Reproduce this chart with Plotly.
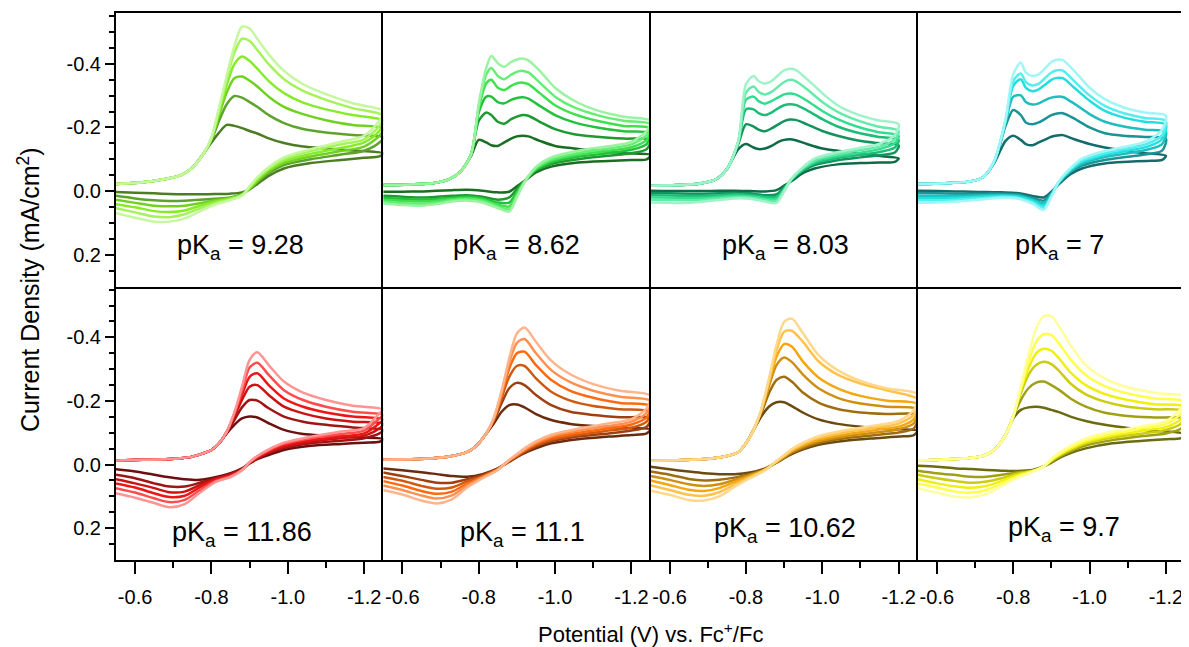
import plotly.graph_objects as go
from plotly.subplots import make_subplots

# ---------------- potential grids (V vs Fc+/Fc) ----------------
E_F1 = [-0.55, -0.62, -0.68, -0.72, -0.75, -0.78, -0.80, -0.82, -0.84, -0.86,
        -0.88, -0.90, -0.92, -0.95, -0.99, -1.04, -1.10, -1.17, -1.25]
E_R1 = [-1.24, -1.20, -1.14, -1.06, -0.99, -0.95, -0.92, -0.90, -0.88, -0.85,
        -0.81, -0.77, -0.73, -0.69, -0.65, -0.60, -0.55]
E_F2 = [-0.55, -0.62, -0.68, -0.72, -0.75, -0.78, -0.80, -0.82, -0.833, -0.85,
        -0.867, -0.885, -0.90, -0.915, -0.93, -0.96, -1.00, -1.05, -1.11, -1.18, -1.25]
E_F3 = [-0.55, -0.62, -0.68, -0.72, -0.75, -0.78, -0.80, -0.82, -0.833, -0.85,
        -0.867, -0.885, -0.90, -0.915, -0.93, -0.96, -1.00, -1.04, -1.09, -1.145, -1.20]
E_R3 = [-1.19, -1.15, -1.10, -1.04, -0.98, -0.95, -0.92, -0.90, -0.88, -0.85,
        -0.81, -0.77, -0.73, -0.69, -0.65, -0.60, -0.55]

# ---------------- pKa 9.28 ----------------
FOOT_928 = [-0.022, -0.028, -0.038, -0.050, -0.074, -0.119]
TAIL_928 = [
    [-0.153, -0.184, -0.208, -0.205, -0.198, -0.189, -0.181, -0.166, -0.151, -0.140, -0.134, -0.128, -0.119],
    [-0.160, -0.221, -0.273, -0.299, -0.294, -0.280, -0.265, -0.239, -0.214, -0.195, -0.184, -0.176, -0.169],
    [-0.163, -0.239, -0.310, -0.355, -0.360, -0.347, -0.329, -0.297, -0.265, -0.242, -0.223, -0.208, -0.197],
    [-0.165, -0.249, -0.333, -0.399, -0.423, -0.409, -0.385, -0.346, -0.308, -0.278, -0.257, -0.239, -0.221],
    [-0.167, -0.257, -0.352, -0.435, -0.479, -0.472, -0.444, -0.399, -0.352, -0.315, -0.287, -0.261, -0.237],
    [-0.168, -0.263, -0.362, -0.456, -0.517, -0.511, -0.479, -0.430, -0.378, -0.336, -0.305, -0.276, -0.252],
]
REV_928 = [
    [-0.109, -0.105, -0.098, -0.088, -0.071, -0.048, -0.022, -0.006, 0.004, 0.008, 0.009, 0.010, 0.010, 0.009, 0.007, 0.005, 0.003],
    [-0.153, -0.127, -0.115, -0.100, -0.082, -0.057, -0.027, -0.006, 0.009, 0.020, 0.024, 0.027, 0.030, 0.031, 0.029, 0.023, 0.015],
    [-0.174, -0.140, -0.126, -0.109, -0.088, -0.062, -0.031, -0.008, 0.010, 0.022, 0.029, 0.038, 0.046, 0.048, 0.046, 0.037, 0.027],
    [-0.189, -0.153, -0.136, -0.117, -0.094, -0.067, -0.036, -0.010, 0.012, 0.024, 0.033, 0.046, 0.061, 0.066, 0.063, 0.051, 0.041],
    [-0.205, -0.163, -0.147, -0.126, -0.100, -0.071, -0.040, -0.013, 0.013, 0.026, 0.038, 0.054, 0.073, 0.082, 0.080, 0.067, 0.054],
    [-0.221, -0.174, -0.155, -0.132, -0.106, -0.075, -0.043, -0.015, 0.014, 0.028, 0.042, 0.063, 0.086, 0.096, 0.096, 0.084, 0.069],
]
COL_928 = ["#4b7d22", "#5ea32b", "#6fd21f", "#86ec2a", "#a6f25a", "#c5f79c"]

# ---------------- pKa 8.62 ----------------
FOOT_862 = [-0.019, -0.021, -0.025, -0.036, -0.059]
TAIL_862 = [
    [-0.111, -0.161, -0.153, -0.144, -0.142, -0.153, -0.165, -0.172, -0.174, -0.172, -0.158, -0.142, -0.134, -0.127, -0.119, -0.113],
    [-0.116, -0.221, -0.247, -0.239, -0.218, -0.212, -0.226, -0.234, -0.239, -0.237, -0.218, -0.195, -0.179, -0.171, -0.165, -0.161],
    [-0.116, -0.247, -0.297, -0.297, -0.280, -0.276, -0.287, -0.293, -0.295, -0.291, -0.268, -0.239, -0.216, -0.200, -0.188, -0.182],
    [-0.116, -0.260, -0.339, -0.350, -0.325, -0.318, -0.331, -0.339, -0.341, -0.336, -0.308, -0.270, -0.242, -0.221, -0.205, -0.197],
    [-0.116, -0.266, -0.367, -0.387, -0.362, -0.352, -0.366, -0.375, -0.378, -0.373, -0.341, -0.297, -0.263, -0.239, -0.221, -0.210],
    [-0.116, -0.273, -0.388, -0.425, -0.402, -0.391, -0.406, -0.414, -0.417, -0.411, -0.378, -0.325, -0.284, -0.254, -0.234, -0.221],
]
REV_862 = [
    [-0.100, -0.098, -0.095, -0.090, -0.077, -0.059, -0.032, -0.015, 0.002, 0.004, -0.001, -0.004, -0.003, -0.001, 0.001, 0.002, 0.002],
    [-0.132, -0.119, -0.111, -0.100, -0.085, -0.064, -0.032, -0.006, 0.020, 0.027, 0.018, 0.013, 0.015, 0.018, 0.020, 0.018, 0.015],
    [-0.148, -0.130, -0.119, -0.108, -0.090, -0.067, -0.031, 0.002, 0.036, 0.036, 0.023, 0.018, 0.021, 0.025, 0.027, 0.025, 0.021],
    [-0.161, -0.138, -0.127, -0.114, -0.095, -0.070, -0.030, 0.009, 0.048, 0.043, 0.027, 0.022, 0.025, 0.030, 0.033, 0.031, 0.027],
    [-0.176, -0.147, -0.134, -0.120, -0.100, -0.073, -0.029, 0.015, 0.057, 0.048, 0.031, 0.026, 0.029, 0.036, 0.040, 0.038, 0.033],
    [-0.189, -0.155, -0.141, -0.127, -0.106, -0.076, -0.028, 0.020, 0.064, 0.053, 0.036, 0.030, 0.033, 0.041, 0.046, 0.044, 0.039],
]
COL_862 = ["#1a6e22", "#1e9a30", "#24c23c", "#3ee04f", "#66ee74", "#9af3a0"]

# ---------------- pKa 8.03 ----------------
FOOT_803 = [-0.017, -0.019, -0.024, -0.036, -0.069]
TAIL_803 = [
    [-0.132, -0.148, -0.137, -0.132, -0.134, -0.142, -0.155, -0.161, -0.163, -0.160, -0.148, -0.134, -0.127, -0.119, -0.111, -0.103],
    [-0.148, -0.210, -0.203, -0.193, -0.188, -0.197, -0.210, -0.220, -0.225, -0.224, -0.210, -0.189, -0.174, -0.160, -0.151, -0.144],
    [-0.153, -0.257, -0.257, -0.245, -0.239, -0.247, -0.261, -0.270, -0.273, -0.271, -0.254, -0.226, -0.203, -0.184, -0.171, -0.161],
    [-0.155, -0.287, -0.297, -0.283, -0.275, -0.283, -0.295, -0.304, -0.307, -0.304, -0.284, -0.252, -0.226, -0.203, -0.186, -0.174],
    [-0.157, -0.310, -0.329, -0.312, -0.304, -0.312, -0.329, -0.343, -0.350, -0.346, -0.320, -0.280, -0.249, -0.223, -0.203, -0.189],
    [-0.158, -0.336, -0.362, -0.346, -0.338, -0.346, -0.365, -0.380, -0.385, -0.381, -0.352, -0.308, -0.270, -0.242, -0.223, -0.210],
]
REV_803 = [
    [-0.092, -0.090, -0.088, -0.084, -0.071, -0.057, -0.032, -0.017, -0.003, 0.001, 0.000, -0.001, -0.001, 0.000, 0.000, 0.000, -0.001],
    [-0.121, -0.113, -0.106, -0.097, -0.082, -0.064, -0.036, -0.012, 0.010, 0.013, 0.007, 0.006, 0.007, 0.008, 0.008, 0.007, 0.006],
    [-0.137, -0.123, -0.114, -0.104, -0.087, -0.067, -0.037, -0.008, 0.018, 0.018, 0.012, 0.010, 0.013, 0.015, 0.015, 0.014, 0.013],
    [-0.151, -0.132, -0.121, -0.110, -0.092, -0.070, -0.038, -0.005, 0.024, 0.023, 0.016, 0.015, 0.018, 0.021, 0.022, 0.021, 0.020],
    [-0.163, -0.140, -0.129, -0.116, -0.097, -0.073, -0.039, -0.002, 0.030, 0.028, 0.020, 0.019, 0.023, 0.027, 0.029, 0.028, 0.027],
    [-0.176, -0.149, -0.136, -0.122, -0.103, -0.076, -0.040, 0.001, 0.037, 0.033, 0.024, 0.023, 0.028, 0.033, 0.037, 0.037, 0.036],
]
COL_803 = ["#0f6b45", "#13945e", "#1dbd78", "#33dd90", "#66eaaa", "#9ff3c8"]

# ---------------- pKa 7 ----------------
FOOT_7 = [-0.022, -0.025, -0.029, -0.043]
TAIL_7 = [
    [-0.088, -0.158, -0.174, -0.161, -0.148, -0.144, -0.153, -0.163, -0.171, -0.175, -0.176, -0.163, -0.148, -0.137, -0.127, -0.119, -0.111],
    [-0.090, -0.205, -0.255, -0.239, -0.216, -0.210, -0.216, -0.228, -0.239, -0.244, -0.245, -0.228, -0.200, -0.182, -0.174, -0.170, -0.165],
    [-0.091, -0.216, -0.297, -0.301, -0.280, -0.272, -0.276, -0.287, -0.294, -0.297, -0.296, -0.275, -0.242, -0.218, -0.203, -0.193, -0.186],
    [-0.092, -0.220, -0.331, -0.352, -0.325, -0.314, -0.320, -0.336, -0.350, -0.356, -0.355, -0.325, -0.284, -0.252, -0.231, -0.218, -0.208],
    [-0.093, -0.223, -0.346, -0.370, -0.343, -0.332, -0.338, -0.357, -0.373, -0.380, -0.379, -0.346, -0.301, -0.268, -0.245, -0.230, -0.220],
    [-0.094, -0.226, -0.367, -0.404, -0.373, -0.362, -0.367, -0.388, -0.406, -0.413, -0.412, -0.378, -0.325, -0.289, -0.263, -0.247, -0.237],
]
REV_7 = [
    [-0.098, -0.095, -0.092, -0.087, -0.071, -0.053, -0.022, 0.002, 0.020, 0.015, 0.006, 0.004, 0.003, 0.002, 0.001, 0.000, -0.001],
    [-0.127, -0.116, -0.108, -0.098, -0.080, -0.059, -0.025, 0.006, 0.030, 0.021, 0.010, 0.008, 0.008, 0.008, 0.008, 0.007, 0.006],
    [-0.148, -0.130, -0.119, -0.107, -0.086, -0.063, -0.027, 0.009, 0.039, 0.026, 0.014, 0.012, 0.013, 0.014, 0.015, 0.015, 0.015],
    [-0.163, -0.139, -0.127, -0.113, -0.091, -0.066, -0.029, 0.013, 0.046, 0.030, 0.017, 0.015, 0.017, 0.019, 0.021, 0.022, 0.022],
    [-0.176, -0.148, -0.134, -0.119, -0.096, -0.069, -0.030, 0.015, 0.052, 0.035, 0.020, 0.018, 0.021, 0.024, 0.027, 0.029, 0.029],
    [-0.193, -0.157, -0.141, -0.126, -0.102, -0.072, -0.031, 0.017, 0.059, 0.039, 0.023, 0.021, 0.025, 0.029, 0.033, 0.036, 0.037],
]
COL_7 = ["#156b6b", "#1a9494", "#1fbdbd", "#22dede", "#55eded", "#a0f6f6"]

# ---------------- pKa 11.86 ----------------
FOOT_1186 = [-0.013, -0.015, -0.017, -0.020, -0.025, -0.036, -0.046, -0.067]
TAIL_1186 = [
    [-0.098, -0.125, -0.145, -0.151, -0.148, -0.130, -0.109, -0.096, -0.091, -0.086, -0.080],
    [-0.100, -0.140, -0.180, -0.203, -0.201, -0.177, -0.151, -0.135, -0.125, -0.117, -0.109],
    [-0.103, -0.151, -0.203, -0.245, -0.250, -0.219, -0.182, -0.161, -0.145, -0.135, -0.128],
    [-0.103, -0.156, -0.219, -0.276, -0.287, -0.250, -0.208, -0.182, -0.164, -0.151, -0.142],
    [-0.103, -0.161, -0.232, -0.305, -0.320, -0.282, -0.234, -0.203, -0.182, -0.166, -0.156],
    [-0.103, -0.164, -0.245, -0.329, -0.353, -0.313, -0.261, -0.226, -0.203, -0.185, -0.174],
]
REV_1186 = [
    [-0.072, -0.069, -0.065, -0.059, -0.046, -0.030, -0.017, -0.004, 0.012, 0.027, 0.040, 0.048, 0.046, 0.040, 0.032, 0.022, 0.015],
    [-0.098, -0.083, -0.075, -0.067, -0.052, -0.036, -0.019, -0.004, 0.014, 0.030, 0.043, 0.057, 0.069, 0.069, 0.059, 0.043, 0.032],
    [-0.114, -0.091, -0.083, -0.072, -0.057, -0.039, -0.021, -0.005, 0.015, 0.032, 0.046, 0.064, 0.085, 0.087, 0.074, 0.059, 0.046],
    [-0.130, -0.098, -0.089, -0.077, -0.061, -0.042, -0.023, -0.006, 0.016, 0.035, 0.049, 0.071, 0.098, 0.102, 0.090, 0.072, 0.059],
    [-0.145, -0.107, -0.096, -0.083, -0.065, -0.045, -0.025, -0.007, 0.017, 0.037, 0.052, 0.080, 0.111, 0.118, 0.106, 0.088, 0.074],
    [-0.161, -0.115, -0.104, -0.088, -0.069, -0.048, -0.027, -0.008, 0.018, 0.039, 0.055, 0.088, 0.124, 0.134, 0.121, 0.104, 0.090],
]
COL_1186 = ["#6b0f0f", "#9e1515", "#cc1212", "#ee1515", "#ff4d4d", "#ff9494"]

# ---------------- pKa 11.1 ----------------
FOOT_111 = [-0.015, -0.017, -0.020, -0.025, -0.032, -0.046, -0.067, -0.098]
TAIL_111 = [
    [-0.130, -0.166, -0.187, -0.189, -0.180, -0.159, -0.140, -0.128, -0.121, -0.116, -0.111],
    [-0.138, -0.193, -0.240, -0.257, -0.250, -0.219, -0.187, -0.166, -0.156, -0.149, -0.145],
    [-0.142, -0.209, -0.276, -0.310, -0.310, -0.271, -0.229, -0.201, -0.184, -0.174, -0.166],
    [-0.144, -0.219, -0.302, -0.350, -0.355, -0.313, -0.266, -0.232, -0.210, -0.194, -0.184],
    [-0.147, -0.226, -0.320, -0.383, -0.395, -0.350, -0.297, -0.259, -0.232, -0.213, -0.200],
    [-0.149, -0.232, -0.334, -0.412, -0.431, -0.386, -0.327, -0.284, -0.253, -0.232, -0.217],
]
REV_111 = [
    [-0.098, -0.093, -0.088, -0.080, -0.067, -0.051, -0.036, -0.023, -0.009, 0.012, 0.030, 0.038, 0.036, 0.030, 0.024, 0.018, 0.012],
    [-0.119, -0.107, -0.098, -0.088, -0.073, -0.057, -0.039, -0.025, -0.010, 0.013, 0.033, 0.046, 0.057, 0.057, 0.048, 0.036, 0.025],
    [-0.135, -0.116, -0.107, -0.094, -0.078, -0.061, -0.042, -0.027, -0.012, 0.014, 0.036, 0.053, 0.072, 0.076, 0.067, 0.051, 0.039],
    [-0.149, -0.126, -0.114, -0.100, -0.084, -0.065, -0.045, -0.029, -0.013, 0.015, 0.039, 0.060, 0.085, 0.092, 0.083, 0.066, 0.052],
    [-0.163, -0.135, -0.121, -0.107, -0.089, -0.069, -0.048, -0.031, -0.014, 0.016, 0.041, 0.066, 0.097, 0.107, 0.097, 0.080, 0.066],
    [-0.177, -0.143, -0.129, -0.113, -0.094, -0.073, -0.051, -0.033, -0.015, 0.017, 0.043, 0.072, 0.109, 0.122, 0.113, 0.094, 0.080],
]
COL_111 = ["#6b2b0f", "#a04010", "#d05a10", "#ff6a10", "#ff9050", "#ffb48c"]

# ---------------- pKa 10.62 ----------------
FOOT_1062 = [-0.012, -0.014, -0.017, -0.021, -0.027, -0.039, -0.067, -0.109]
TAIL_1062 = [
    [-0.151, -0.182, -0.196, -0.196, -0.184, -0.163, -0.142, -0.128, -0.119, -0.112, -0.106],
    [-0.161, -0.224, -0.266, -0.276, -0.261, -0.226, -0.195, -0.175, -0.164, -0.159, -0.156],
    [-0.166, -0.245, -0.313, -0.337, -0.323, -0.282, -0.240, -0.210, -0.192, -0.182, -0.174],
    [-0.169, -0.255, -0.339, -0.379, -0.371, -0.323, -0.274, -0.240, -0.216, -0.201, -0.190],
    [-0.172, -0.264, -0.360, -0.418, -0.421, -0.385, -0.325, -0.283, -0.255, -0.233, -0.205],
    [-0.174, -0.268, -0.376, -0.449, -0.459, -0.412, -0.344, -0.297, -0.263, -0.239, -0.221],
]
REV_1062 = [
    [-0.093, -0.088, -0.083, -0.075, -0.062, -0.048, -0.033, -0.020, -0.006, 0.012, 0.025, 0.030, 0.030, 0.027, 0.022, 0.015, 0.007],
    [-0.114, -0.101, -0.093, -0.083, -0.068, -0.052, -0.037, -0.022, -0.007, 0.014, 0.030, 0.041, 0.048, 0.050, 0.045, 0.032, 0.022],
    [-0.130, -0.111, -0.101, -0.089, -0.073, -0.057, -0.040, -0.024, -0.008, 0.015, 0.033, 0.048, 0.062, 0.067, 0.062, 0.048, 0.036],
    [-0.143, -0.119, -0.109, -0.095, -0.078, -0.061, -0.043, -0.026, -0.009, 0.016, 0.037, 0.055, 0.074, 0.083, 0.079, 0.064, 0.050],
    [-0.158, -0.129, -0.116, -0.102, -0.084, -0.065, -0.046, -0.028, -0.010, 0.017, 0.040, 0.063, 0.087, 0.098, 0.095, 0.080, 0.065],
    [-0.172, -0.137, -0.123, -0.108, -0.089, -0.069, -0.049, -0.030, -0.012, 0.018, 0.043, 0.070, 0.100, 0.113, 0.111, 0.095, 0.082],
]
COL_1062 = ["#6b4a0f", "#a06e10", "#cf9010", "#f5a712", "#ffc24d", "#ffd88c"]

# ---------------- pKa 9.7 ----------------
FOOT_97 = [-0.013, -0.016, -0.020, -0.027, -0.046, -0.093]
TAIL_97 = [
    [-0.145, -0.172, -0.180, -0.182, -0.179, -0.172, -0.165, -0.151, -0.137, -0.125, -0.115, -0.106, -0.096],
    [-0.151, -0.203, -0.240, -0.258, -0.261, -0.250, -0.235, -0.208, -0.182, -0.163, -0.153, -0.148, -0.144],
    [-0.151, -0.224, -0.282, -0.313, -0.323, -0.316, -0.295, -0.255, -0.221, -0.198, -0.182, -0.174, -0.168],
    [-0.151, -0.234, -0.302, -0.350, -0.364, -0.358, -0.334, -0.290, -0.250, -0.222, -0.203, -0.190, -0.182],
    [-0.151, -0.240, -0.323, -0.386, -0.410, -0.407, -0.381, -0.331, -0.282, -0.247, -0.224, -0.208, -0.198],
    [-0.151, -0.245, -0.344, -0.428, -0.467, -0.467, -0.435, -0.376, -0.313, -0.271, -0.243, -0.226, -0.213],
]
REV_97 = [
    [-0.083, -0.080, -0.075, -0.067, -0.051, -0.036, -0.020, -0.006, 0.006, 0.017, 0.020, 0.019, 0.017, 0.014, 0.012, 0.007, 0.004],
    [-0.114, -0.098, -0.090, -0.077, -0.060, -0.042, -0.024, -0.009, 0.006, 0.019, 0.025, 0.032, 0.038, 0.038, 0.033, 0.027, 0.019],
    [-0.130, -0.109, -0.098, -0.085, -0.066, -0.046, -0.027, -0.012, 0.006, 0.020, 0.029, 0.043, 0.053, 0.057, 0.052, 0.043, 0.032],
    [-0.145, -0.118, -0.107, -0.091, -0.071, -0.050, -0.030, -0.014, 0.006, 0.021, 0.033, 0.051, 0.067, 0.073, 0.069, 0.059, 0.046],
    [-0.161, -0.128, -0.114, -0.097, -0.076, -0.054, -0.033, -0.016, 0.006, 0.022, 0.038, 0.059, 0.080, 0.088, 0.085, 0.072, 0.059],
    [-0.177, -0.137, -0.121, -0.104, -0.082, -0.059, -0.037, -0.018, 0.006, 0.023, 0.042, 0.067, 0.092, 0.103, 0.101, 0.088, 0.074],
]
COL_97 = ["#6b6b10", "#a0a015", "#cccc10", "#f0f010", "#ffff4d", "#ffff99"]

# ---------------- panel labels / ticks ----------------
PKA_LABELS = ["9.28", "8.62", "8.03", "7", "11.86", "11.1", "10.62", "9.7"]
LABEL_X = [-0.876, -0.898, -0.904, -0.920, -0.879, -0.914, -0.902, -0.933]
LABEL_Y = [0.177, 0.177, 0.177, 0.177, 0.217, 0.217, 0.207, 0.202]
X_TICKS = [-0.6, -0.8, -1.0, -1.2]
X_TICKTEXT = ["-0.6", "-0.8", "-1.0", "-1.2"]
X_MINOR = [-0.7, -0.9, -1.1]
Y_TICKS = [-0.4, -0.2, 0.0, 0.2]
Y_TICKTEXT = ["-0.4", "-0.2", "0.0", "0.2"]
Y_MINOR = [-0.55, -0.5, -0.45, -0.35, -0.3, -0.25, -0.15, -0.1, -0.05,
           0.05, 0.1, 0.15, 0.25]

panels = [
    (1, 1, E_F1, E_R1, FOOT_928, TAIL_928, REV_928, COL_928),
    (1, 2, E_F2, E_R1, FOOT_862, TAIL_862, REV_862, COL_862),
    (1, 3, E_F3, E_R3, FOOT_803, TAIL_803, REV_803, COL_803),
    (1, 4, E_F3, E_R3, FOOT_7, TAIL_7, REV_7, COL_7),
    (2, 1, E_F1, E_R1, FOOT_1186, TAIL_1186, REV_1186, COL_1186),
    (2, 2, E_F1, E_R1, FOOT_111, TAIL_111, REV_111, COL_111),
    (2, 3, E_F1, E_R1, FOOT_1062, TAIL_1062, REV_1062, COL_1062),
    (2, 4, E_F1, E_R1, FOOT_97, TAIL_97, REV_97, COL_97),
]

FONT = "Liberation Sans, Arial, sans-serif"

fig = make_subplots(rows=2, cols=4, horizontal_spacing=0, vertical_spacing=0)

for k, (r, c, ef, er, foot, tails, revs, cols) in enumerate(panels):
    for tail, rev, col in zip(tails, revs, cols):
        fig.add_trace(
            go.Scatter(
                x=ef + er,
                y=foot + tail + rev,
                mode="lines",
                line=dict(color=col, width=2.5, shape="spline", smoothing=0.8),
                hoverinfo="skip",
                showlegend=False,
            ),
            row=r, col=c,
        )
    fig.add_annotation(
        x=LABEL_X[k], y=LABEL_Y[k], row=r, col=c,
        text="pK<sub>a</sub> = " + PKA_LABELS[k],
        xanchor="center", yanchor="middle",
        showarrow=False, font=dict(family=FONT, size=27, color="black"),
    )

for r in (1, 2):
    for c in (1, 2, 3, 4):
        bottom = r == 2
        left = c == 1
        fig.update_xaxes(
            row=r, col=c,
            range=[-0.55, -1.25], showgrid=False, zeroline=False,
            showline=True, mirror=(r == 1), linecolor="black", linewidth=2,
            tickmode="array", tickvals=X_TICKS, ticktext=X_TICKTEXT,
            ticks="outside" if bottom else "", ticklen=12, tickwidth=2, tickcolor="black",
            showticklabels=bottom, ticklabelstandoff=6,
            minor=dict(tickmode="array", tickvals=X_MINOR, ticks="outside" if bottom else "",
                       ticklen=6, tickwidth=2, tickcolor="black", showgrid=False),
            tickfont=dict(family=FONT, size=20, color="black"),
        )
        fig.update_yaxes(
            row=r, col=c,
            range=[0.3, -0.56], showgrid=False, zeroline=False,
            showline=True, mirror=(c == 4), linecolor="black", linewidth=2,
            tickmode="array", tickvals=Y_TICKS, ticktext=Y_TICKTEXT,
            ticks="outside" if left else "", ticklen=9, tickwidth=2, tickcolor="black",
            showticklabels=left,
            minor=dict(tickmode="array", tickvals=Y_MINOR, ticks="outside" if left else "",
                       ticklen=5, tickwidth=2, tickcolor="black", showgrid=False),
            tickfont=dict(family=FONT, size=20, color="black"),
        )

fig.add_annotation(
    xref="paper", yref="paper", x=-0.082, y=0.494,
    xanchor="center", yanchor="middle",
    text="Current Density (mA/cm<sup>2</sup>)", textangle=-90,
    showarrow=False, font=dict(family=FONT, size=25, color="black"),
)
fig.add_annotation(
    xref="paper", yref="paper", x=0.5, y=-0.133,
    xanchor="center", yanchor="middle",
    text="Potential (V) vs. Fc<sup>+</sup>/Fc",
    showarrow=False, font=dict(family=FONT, size=22, color="black"),
)

# the page body adds an 8 px offset, so the figure is sized to the visible window
fig.update_layout(
    width=1181, height=639,
    margin=dict(l=108, r=2, t=5, b=87),
    paper_bgcolor="white", plot_bgcolor="white",
    showlegend=False,
)

fig.write_html("out.html")
